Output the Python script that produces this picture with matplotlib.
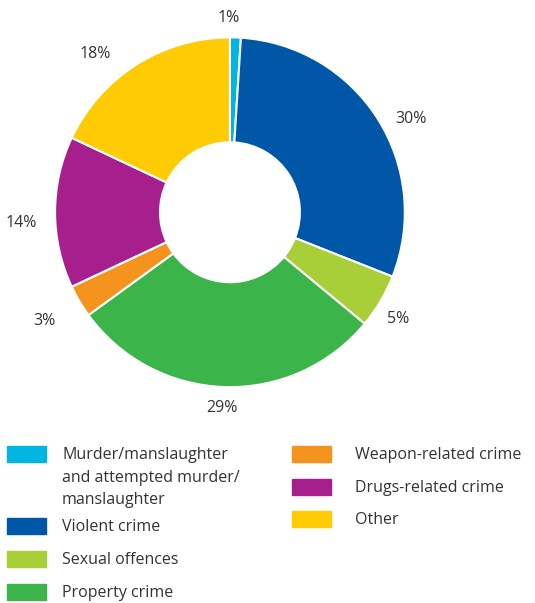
import matplotlib.pyplot as plt
from matplotlib.patches import Rectangle
from matplotlib.transforms import offset_copy

plt.rcParams['font.family'] = ['Open Sans', 'DejaVu Sans']

# data
categories = ["Murder/manslaughter\nand attempted murder/\nmanslaughter",
              "Violent crime", "Sexual offences", "Property crime",
              "Weapon-related crime", "Drugs-related crime", "Other"]
shares = [1, 30, 5, 29, 3, 14, 18]
colors = ["#00B5E2", "#0057A8", "#A8CF38", "#3BB54A", "#F5931F", "#A71F8C", "#FFCB05"]

# pixel nudges for the percentage labels (x right, y down)
label_shift = [(-7, 3), (14, 13), (-2, 6), (-2, -2), (-15, 8), (-11, 11), (-29, 9)]

fig = plt.figure(figsize=(5.35, 6.03), dpi=100)
ax = fig.add_axes([0.1028, 0.358, 0.654, 0.580])

wedges, texts = ax.pie(shares, colors=colors, startangle=90, counterclock=False,
                       labels=[f"{s}%" for s in shares], labeldistance=1.13,
                       wedgeprops=dict(width=0.6, edgecolor="white", linewidth=1.5),
                       textprops=dict(fontsize=11.5, color="#333333"))
for t, (dx, dy) in zip(texts, label_shift):
    t.set_horizontalalignment("center")
    t.set_verticalalignment("center")
    t.set_transform(offset_copy(ax.transData, fig=fig, x=dx, y=-dy, units="dots"))
ax.set_xlim(-1, 1)
ax.set_ylim(-1, 1)
ax.set_aspect("equal")

# legend drawn by hand (two columns, swatch aligned with first text line)
W, H = 535, 603
left_rows = [454, 526, 559, 592]
right_rows = [454, 487, 519]
slots = [(7, 62, y) for y in left_rows] + [(292, 355, y) for y in right_rows]
for (sx, tx, y), lab, c in zip(slots, categories, colors):
    fig.add_artist(Rectangle((sx / W, 1 - (y + 8) / H), 39 / W, 16 / H,
                             transform=fig.transFigure, color=c))
    fig.text(tx / W, 1 - (y - 7) / H, lab, fontsize=11.5, color="#333333",
             va="top", ha="left", linespacing=1.55)

fig.savefig("out.png", dpi=100)
